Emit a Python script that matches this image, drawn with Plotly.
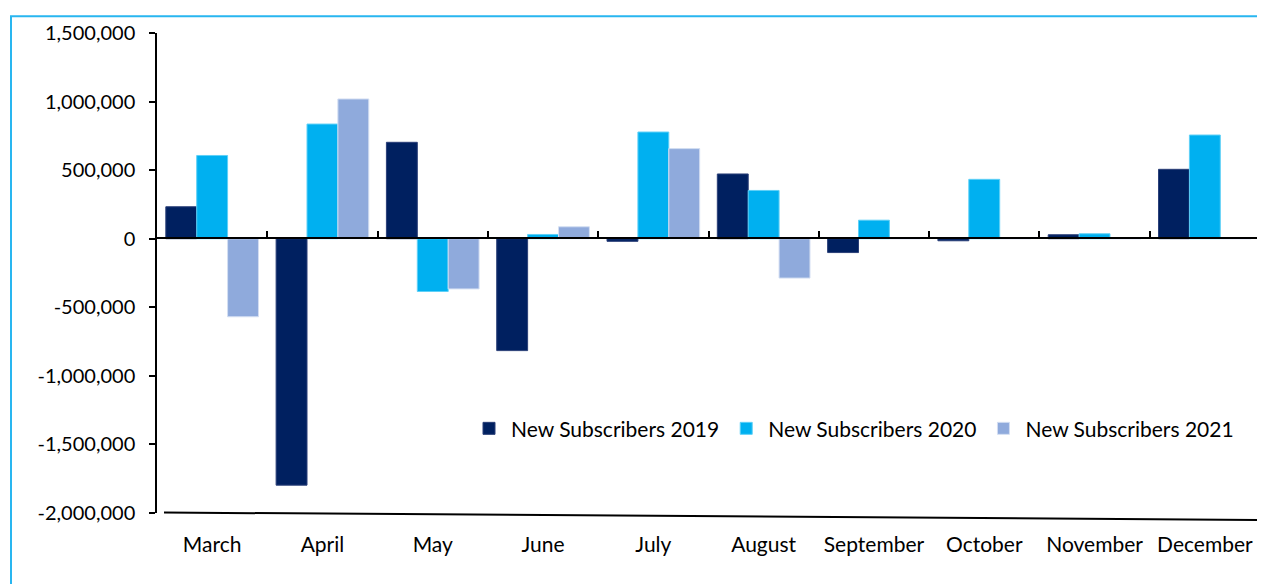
import plotly.graph_objects as go

months = ["March", "April", "May", "June", "July", "August", "September", "October", "November", "December"]
subs_2019 = [233000, -1797000, 703000, -816000, -19000, 472000, -101000, -15000, 29000, 506000]
subs_2020 = [607000, 836000, -385000, 31000, 778000, 352000, 135000, 433000, 36000, 756000]
subs_2021 = [-569000, 1019000, -366000, 87000, 657000, -287000, 0, 0, 0, 0]
series_names = ["New Subscribers 2019", "New Subscribers 2020", "New Subscribers 2021"]
y_tickvals = [1500000, 1000000, 500000, 0, -500000, -1000000, -1500000, -2000000]
y_ticktext = ["1,500,000", "1,000,000", "500,000", "0", "-500,000", "-1,000,000", "-1,500,000", "-2,000,000"]

FONT = "Lato"
FS = 21
colors = ["#002060", "#00B0F0", "#8FAADC"]
edges = ["#2a3f78", "#5fd0f7", "#d3def2"]

fig = go.Figure()
for name, vals, c, e in zip(series_names, [subs_2019, subs_2020, subs_2021], colors, edges):
    fig.add_trace(go.Bar(x=months, y=vals, name=name, marker=dict(color=c, line=dict(color=e, width=1))))

n = len(months)
boundaries = [i - 0.5 for i in range(n + 1)]
fig.add_trace(go.Scatter(x=[boundaries[0], boundaries[-1]], y=[0, 0], xaxis="x2", mode="lines",
                         line=dict(width=0), showlegend=False, hoverinfo="skip"))

OFF = 8  # page body margin
W, H = 1265, 584
L, R, T, B = 157 - OFF, 13, 29 - OFF, 71 + OFF
pw, ph = W - L - R, H - T - B

def px(xs):
    return (xs - OFF - L) / pw

def py(ys):
    return (H - B - (ys - OFF)) / ph

zero_pos = py(236)

fig.update_layout(
    width=W, height=H,
    margin=dict(l=L, r=R, t=T, b=B),
    paper_bgcolor="white", plot_bgcolor="white",
    barmode="group", bargap=0.16, bargroupgap=0,
    font=dict(family=FONT, size=FS, color="#000000"),
    showlegend=True,
    legend=dict(orientation="h", x=px(467), y=py(428), xanchor="left", yanchor="middle",
                font=dict(family=FONT, size=FS, color="#000000"), bgcolor="rgba(0,0,0,0)",
                itemwidth=34, traceorder="normal"),
    xaxis=dict(type="category", showline=False, ticks="", showgrid=False, zeroline=False,
               ticklabelstandoff=17, tickfont=dict(size=FS), range=[-0.5, n - 0.5]),
    xaxis2=dict(overlaying="x", anchor="free", position=zero_pos, side="bottom",
                range=[-0.5, n - 0.5], tickmode="array", tickvals=boundaries,
                ticks="inside", ticklen=7, tickwidth=1.5, tickcolor="#000000",
                showticklabels=False, showline=True, linecolor="#000000", linewidth=1.5,
                showgrid=False, zeroline=False),
    yaxis=dict(range=[-2000000, 1500000], tickmode="array", tickvals=y_tickvals, ticktext=y_ticktext,
               showline=True, linecolor="#000000", linewidth=1.5, ticks="outside", ticklen=6,
               tickwidth=1.5, tickcolor="#000000", showgrid=False, zeroline=False,
               ticklabelstandoff=10, tickfont=dict(size=20)),
)

fig.add_shape(type="line", xref="paper", yref="paper", x0=px(11), x1=px(11), y0=py(12), y1=py(600),
              line=dict(color="#29B6F0", width=2))
fig.add_shape(type="line", xref="paper", yref="paper", x0=px(10), x1=px(1280), y0=py(12), y1=py(12),
              line=dict(color="#29B6F0", width=2))
fig.add_shape(type="line", xref="paper", yref="paper", x0=px(164), x1=px(1280), y0=py(512.5), y1=py(520.1),
              line=dict(color="#000000", width=2))

fig.write_html("out.html")
